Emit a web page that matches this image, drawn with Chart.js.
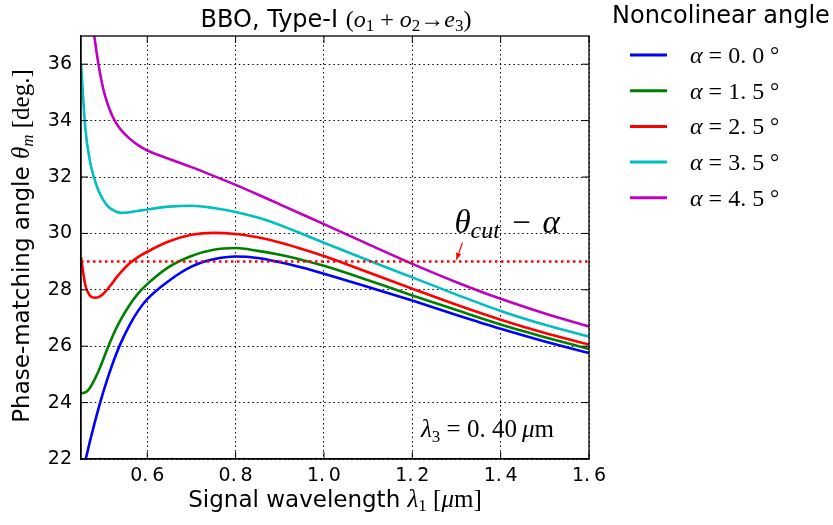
<!DOCTYPE html>
<html>
<head>
<meta charset="utf-8">
<script src="https://cdn.jsdelivr.net/npm/chart.js@4.4.0/dist/chart.umd.min.js"></script>
<style>
  html, body { margin: 0; padding: 0; background: #fff; }
</style>
</head>
<body>
<canvas id="chart" width="833" height="525"></canvas>
<script>
// signal wavelength (um) and phase-matching angle (deg) for each noncolinear angle
const wavelengths = [0.45, 0.46, 0.47, 0.48, 0.49, 0.50, 0.51, 0.52, 0.53, 0.54, 0.56, 0.58, 0.60, 0.65, 0.70, 0.75, 0.80, 0.85, 0.90, 0.95, 1.00, 1.10, 1.20, 1.30, 1.40, 1.50, 1.60];
const alpha00 = [21.3, 21.95, 22.61, 23.23, 23.81, 24.35, 24.85, 25.31, 25.73, 26.11, 26.75, 27.27, 27.67, 28.33, 28.82, 29.08, 29.18, 29.13, 28.98, 28.79, 28.57, 28.1, 27.62, 27.11, 26.62, 26.17, 25.76];
const alpha15 = [24.33, 24.36, 24.52, 24.8, 25.13, 25.52, 25.92, 26.3, 26.64, 26.94, 27.46, 27.88, 28.2, 28.82, 29.2, 29.42, 29.48, 29.38, 29.24, 29.06, 28.85, 28.34, 27.8, 27.28, 26.77, 26.32, 25.9];
const alpha25 = [29.15, 28.15, 27.8, 27.72, 27.74, 27.85, 28.02, 28.22, 28.43, 28.62, 28.94, 29.17, 29.35, 29.72, 29.95, 30.02, 29.98, 29.86, 29.68, 29.45, 29.2, 28.62, 28.04, 27.47, 26.94, 26.47, 26.06];
const alpha35 = [36.0, 33.7, 32.58, 31.95, 31.5, 31.2, 30.98, 30.85, 30.77, 30.73, 30.75, 30.8, 30.85, 30.95, 30.98, 30.9, 30.76, 30.56, 30.3, 29.99, 29.67, 29.05, 28.44, 27.83, 27.25, 26.76, 26.34];
const alpha45 = [40.5, 39.2, 38.0, 37.0, 35.95, 35.15, 34.6, 34.2, 33.9, 33.68, 33.36, 33.12, 32.94, 32.64, 32.35, 32.04, 31.72, 31.38, 31.03, 30.68, 30.33, 29.62, 28.92, 28.27, 27.68, 27.16, 26.7];

const alphas = ['0. 0', '1. 5', '2. 5', '3. 5', '4. 5'];
const series = [alpha00, alpha15, alpha25, alpha35, alpha45];
const colors = ['#0000ff', '#008000', '#ff0000', '#00bfbf', '#bf00bf'];
const cutAngle = 29.0;

const xTicks = [0.6, 0.8, 1.0, 1.2, 1.4, 1.6];
const yTicks = [22, 24, 26, 28, 30, 32, 34, 36];

const SANS = '"DejaVu Sans", sans-serif';
const SERIF = '"Liberation Serif", serif';
const sans = s => s + 'px ' + SANS;
const rm = s => s + 'px ' + SERIF;
const it = s => 'italic ' + s + 'px ' + SERIF;

// draw a run of text pieces [text, font, dy]
function rich(ctx, parts, x, y, align) {
  let total = 0;
  const ws = parts.map(p => { ctx.font = p[1]; const w = ctx.measureText(p[0]).width; total += w; return w; });
  let cx = align === 'center' ? x - total / 2 : x;
  ctx.textAlign = 'left';
  ctx.textBaseline = 'alphabetic';
  parts.forEach((p, i) => {
    ctx.font = p[1];
    ctx.fillText(p[0], cx, y + (p[2] || 0));
    cx += ws[i];
  });
}

const datasets = series.map((vals, i) => ({
  label: alphas[i],
  data: wavelengths.map((w, j) => ({ x: w, y: vals[j] })),
  borderColor: colors[i],
  borderWidth: 2.6,
  pointRadius: 0,
  cubicInterpolationMode: 'monotone',
  clip: 0,
  order: 10 - i
}));
datasets.push({
  label: 'cut',
  data: [{ x: 0.45, y: cutAngle }, { x: 1.6, y: cutAngle }],
  borderColor: '#ff0000',
  borderWidth: 2.5,
  borderDash: [2.5, 3.5],
  pointRadius: 0,
  clip: 0,
  order: 1
});

const decor = {
  id: 'decor',
  afterDraw(chart) {
    const ctx = chart.ctx;
    const a = chart.chartArea;
    const xs = chart.scales.x, ys = chart.scales.y;
    ctx.save();
    ctx.fillStyle = '#000';
    ctx.strokeStyle = '#000';

    // frame
    ctx.lineWidth = 1.3;
    ctx.strokeRect(a.left, a.top, a.right - a.left, a.bottom - a.top);

    // inward ticks on all sides
    ctx.lineWidth = 1;
    ctx.beginPath();
    xTicks.forEach(v => {
      const px = xs.getPixelForValue(v);
      ctx.moveTo(px, a.bottom); ctx.lineTo(px, a.bottom - 7);
      ctx.moveTo(px, a.top); ctx.lineTo(px, a.top + 7);
    });
    yTicks.forEach(v => {
      const py = ys.getPixelForValue(v);
      ctx.moveTo(a.left, py); ctx.lineTo(a.left + 7, py);
      ctx.moveTo(a.right, py); ctx.lineTo(a.right - 7, py);
    });
    ctx.stroke();

    // title
    rich(ctx, [
      ['BBO, Type-I ', sans(24)], ['(', rm(24)], ['o', it(24)], ['1', rm(17), 4],
      [' + ', rm(24)], ['o', it(24)], ['2', rm(17), 4], ['\u2192', rm(24)],
      ['e', it(24)], ['3', rm(17), 4], [')', rm(24)]
    ], 336, 27, 'center');

    // x axis title
    rich(ctx, [
      ['Signal wavelength ', sans(23)], ['\u03bb', it(25)], ['1', rm(17), 4],
      [' [', rm(25)], ['\u03bc', it(25)], ['m]', rm(25)]
    ], 335, 507, 'center');

    // y axis title
    ctx.save();
    ctx.translate(29, 246);
    ctx.rotate(-Math.PI / 2);
    rich(ctx, [
      ['Phase-matching angle ', sans(23)], ['\u03b8', it(25)], ['m', it(17), 4],
      [' [deg.]', rm(25)]
    ], 0, 0, 'center');
    ctx.restore();

    // legend
    ctx.font = sans(24);
    ctx.textAlign = 'left';
    ctx.fillText('Noncolinear angle', 612, 23);
    series.forEach((_, i) => {
      const ly = 55 + i * 35.7;
      ctx.strokeStyle = colors[i];
      ctx.lineWidth = 3;
      ctx.beginPath();
      ctx.moveTo(630, ly); ctx.lineTo(667, ly);
      ctx.stroke();
      ctx.fillStyle = '#000';
      rich(ctx, [
        ['\u03b1', it(24)], [' = ', rm(24)], [alphas[i], rm(24)], [' \u00b0', rm(23)]
      ], 690, ly + 8, 'left');
    });

    // theta_cut annotation with arrow
    const tx = xs.getPixelForValue(1.3), ty = ys.getPixelForValue(cutAngle);
    ctx.fillStyle = '#000';
    const by = ty - 29;
    ctx.textAlign = 'left';
    ctx.font = it(33); ctx.fillText('\u03b8', tx - 2, by);
    ctx.font = it(24); ctx.fillText('cut', tx + 14, by + 5);
    ctx.font = rm(33); ctx.textAlign = 'center'; ctx.fillText('\u2212', tx + 65, by);
    ctx.font = it(33); ctx.textAlign = 'left'; ctx.fillText('\u03b1', tx + 86, by);

    ctx.strokeStyle = '#ff0000';
    ctx.fillStyle = '#ff0000';
    ctx.lineWidth = 1.2;
    const ax0 = tx + 6, ay0 = ty - 19, ax1 = tx, ay1 = ty - 2;
    ctx.beginPath(); ctx.moveTo(ax0, ay0); ctx.lineTo(ax1, ay1); ctx.stroke();
    const ang = Math.atan2(ay1 - ay0, ax1 - ax0);
    ctx.beginPath();
    ctx.moveTo(ax1, ay1);
    ctx.lineTo(ax1 - 7 * Math.cos(ang - 0.4), ay1 - 7 * Math.sin(ang - 0.4));
    ctx.lineTo(ax1 - 7 * Math.cos(ang + 0.4), ay1 - 7 * Math.sin(ang + 0.4));
    ctx.closePath();
    ctx.fill();

    // pump wavelength note
    ctx.fillStyle = '#000';
    rich(ctx, [
      ['\u03bb', it(25)], ['3', rm(17), 5], [' = ', rm(25)], ['0. 40\u2009', rm(25)],
      ['\u03bc', it(25)], ['m', rm(25)]
    ], 421, 437, 'left');

    ctx.restore();
  }
};

new Chart(document.getElementById('chart'), {
  type: 'line',
  data: { datasets },
  options: {
    responsive: false,
    animation: false,
    layout: { padding: { top: 36, right: 244, left: 0, bottom: 0 } },
    plugins: { legend: { display: false }, tooltip: { enabled: false } },
    scales: {
      x: {
        type: 'linear', min: 0.45, max: 1.6,
        afterBuildTicks: s => { s.ticks = xTicks.map(v => ({ value: v })); },
        afterFit: s => { s.height = 66; },
        grid: { color: '#000', lineWidth: 1, drawTicks: false },
        border: { display: true, color: '#000', width: 1.3, dash: [1.5, 3] },
        ticks: { color: '#000', font: { family: SANS, size: 19 }, padding: 6, maxRotation: 0,
                 callback: v => v.toFixed(1).replace('.', '.\u2009') }
      },
      y: {
        type: 'linear', min: 22, max: 37,
        afterBuildTicks: s => { s.ticks = yTicks.map(v => ({ value: v })); },
        afterFit: s => { s.width = 81; },
        grid: { color: '#000', lineWidth: 1, drawTicks: false },
        border: { display: true, color: '#000', width: 1.3, dash: [1.5, 3] },
        ticks: { color: '#000', font: { family: SANS, size: 19 }, padding: 9 }
      }
    }
  },
  plugins: [decor]
});
</script>
</body>
</html>
